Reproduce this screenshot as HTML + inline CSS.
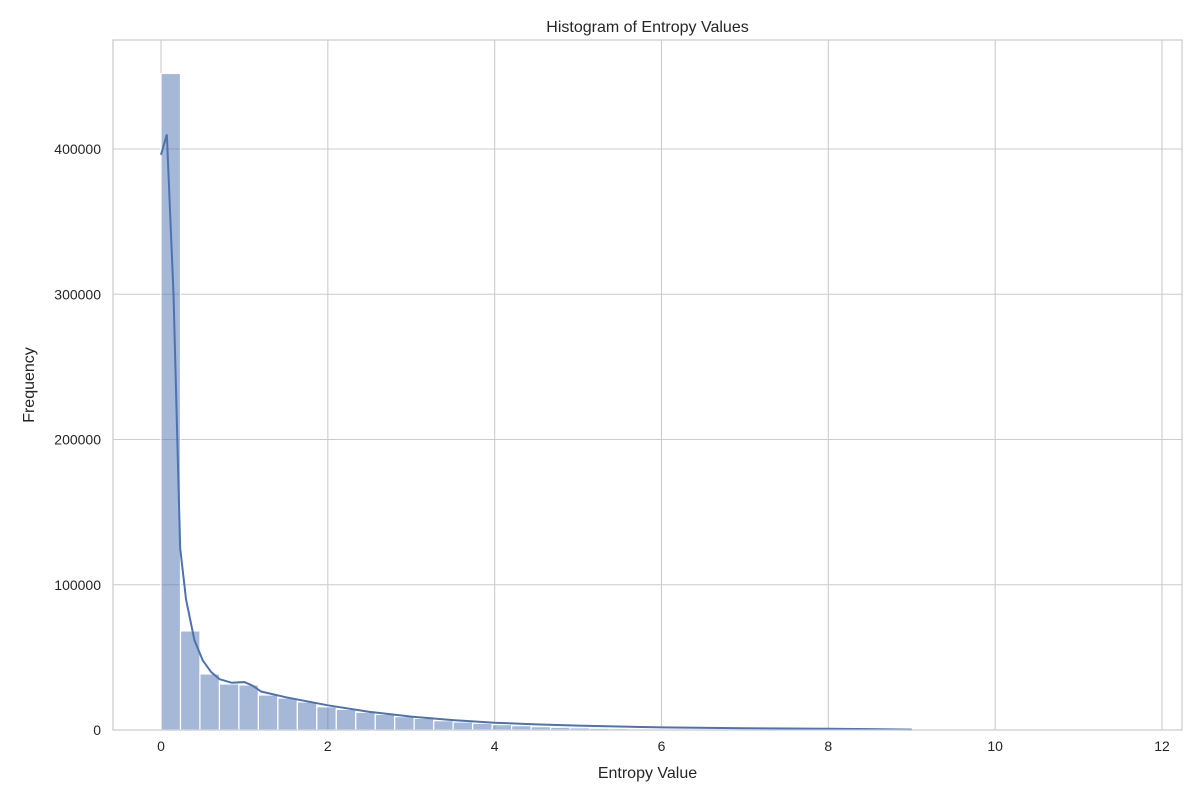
<!DOCTYPE html>
<html><head><meta charset="utf-8"><style>
body{margin:0;background:#fff;font-family:"Liberation Sans","DejaVu Sans",sans-serif}
svg text{font-family:"Liberation Sans","DejaVu Sans",sans-serif;fill:#262626}
</style></head><body>
<svg id="chart" width="1200" height="800" xmlns="http://www.w3.org/2000/svg">
<rect width="1200" height="800" fill="#fff"/>
<g id="grid"></g><g id="bars"></g><g id="kde"></g><g id="axes"></g>
</svg>
<script>
const binStart = 0;
const binWidth = 0.2335;
const binCounts = [452000,68200,38600,31700,31000,24100,22000,19300,16000,14200,12200,10800,9200,8000,6400,5500,4600,3700,3000,2300,1900,1500,1200,1000,800,650,520,420,340,280,230,190,150,120,100,80,60,50,40,30,25,20,15,12,10,8,6,5,4,3];
const kdeX = [0,0.07,0.15,0.2,0.23,0.3,0.4,0.5,0.6,0.7,0.85,1.0,1.1,1.2,1.5,2,2.5,3,3.5,4,4.5,5,6,7,8,8.5,9];
const kdeY = [396000,410000,300000,190000,125000,90000,62000,48000,40000,35000,32500,33000,30500,26500,22500,17000,12500,9200,6800,5000,3900,3000,1800,1200,900,600,300];
const xTicks = [0,2,4,6,8,10,12];
const yTicks = [0,100000,200000,300000,400000];
const L=113,R=1182,T=40,B=730;
const X=v=>161+v*(1162-161)/12;
const Y=v=>730-v*(730-149)/400000;
const NS="http://www.w3.org/2000/svg";
function mk(tag,attrs,parent,txt){const e=document.createElementNS(NS,tag);for(const k in attrs)e.setAttribute(k,attrs[k]);if(txt!==undefined)e.textContent=txt;parent.appendChild(e);return e;}
const grid=document.getElementById('grid'),bars=document.getElementById('bars'),kde=document.getElementById('kde'),axes=document.getElementById('axes');
xTicks.forEach(t=>{
  const l=mk('line',{x1:X(t),x2:X(t),y1:T,y2:B,stroke:'#cccccc','stroke-width':1.1},grid);
  
  
  const tx=mk('text',{x:X(t),y:B+21,'text-anchor':'middle','font-size':14},axes,String(t));
  
  
});
yTicks.forEach(t=>{
  const l=mk('line',{x1:L,x2:R,y1:Y(t),y2:Y(t),stroke:'#cccccc','stroke-width':1.1},grid);
  
  
  const tx=mk('text',{x:L-12,y:Y(t)+5,'text-anchor':'end','font-size':14},axes,String(t));
  
  
});
binCounts.forEach((c,i)=>{
  const x0=X(binStart+i*binWidth),x1=X(binStart+(i+1)*binWidth);
  const r=mk('rect',{x:x0,y:Y(c),width:x1-x0,height:B-Y(c),fill:'rgba(76,114,176,0.5)',stroke:'#fff','stroke-width':1.2},bars);
  
  
});
const p=mk('polyline',{points:kdeX.map((x,i)=>X(x)+','+Y(kdeY[i])).join(' '),fill:'none',stroke:'#4c72b0','stroke-width':2},kde);


const fr=mk('rect',{x:L,y:T,width:R-L,height:B-T,fill:'none',stroke:'#cccccc','stroke-width':1.25},axes);


const ti=mk('text',{x:(L+R)/2,y:32,'text-anchor':'middle','font-size':16},axes,'Histogram of Entropy Values');


const xl=mk('text',{x:(L+R)/2,y:778,'text-anchor':'middle','font-size':16},axes,'Entropy Value');


const yl=mk('text',{x:0,y:0,'text-anchor':'middle','font-size':16,transform:'translate(34,385) rotate(-90)'},axes,'Frequency');


</script>
</body></html>
